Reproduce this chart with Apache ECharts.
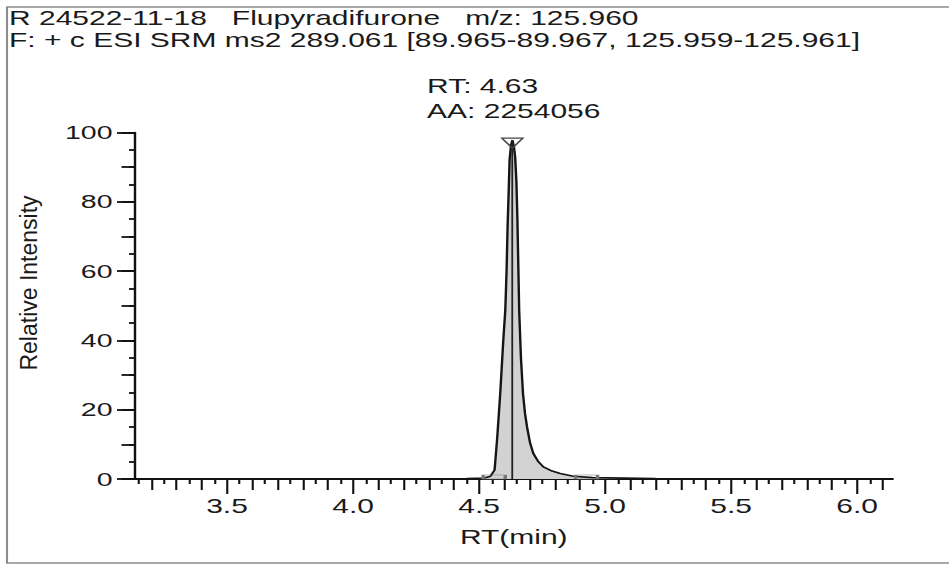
<!DOCTYPE html>
<html>
<head>
<meta charset="utf-8">
<script src="https://cdn.jsdelivr.net/npm/echarts@6.0.0/dist/echarts.min.js"></script>
<style>
  html, body { margin: 0; padding: 0; background: #fff; overflow: hidden; }
  #wrap { width: 949px; height: 565px; overflow: hidden; position: relative; }
  #chart { width: 632.667px; height: 565px; transform: scaleX(1.5); transform-origin: 0 0; }
</style>
</head>
<body>
<div id="wrap"><div id="chart"></div></div>
<script>
// ---- data ----
const titleLine1 = 'R 24522-11-18   Flupyradifurone   m/z: 125.960';
const titleLine2 = 'F: + c ESI SRM ms2 289.061 [89.965-89.967, 125.959-125.961]';
const peakLabel = ['RT: 4.63', 'AA: 2254056'];
const xTitle = 'RT(min)';
const yTitle = 'Relative Intensity';

const rtTimes = [3.135, 3.5, 4.0, 4.45, 4.52, 4.545, 4.5615, 4.572, 4.584, 4.596, 4.604, 4.609, 4.613, 4.617, 4.621, 4.627, 4.632,
                 4.638, 4.643, 4.648, 4.652, 4.656, 4.659, 4.666, 4.674, 4.682, 4.690, 4.702, 4.715, 4.735, 4.755, 4.79, 4.822, 4.874, 4.95, 5.2, 5.6, 6.14];
const intensity = [0, 0, 0, 0.1, 0.3, 0.8, 2.6, 12, 24.8, 40, 48.8, 60, 72.7, 82, 92.1, 96.5, 97.8,
                   96, 93, 86, 75, 60, 48.8, 35, 24.8, 19, 15.1, 10.5, 7.4, 5, 3.5, 2.3, 1.6, 0.8, 0.4, 0.1, 0, 0];
const apexRT = 4.632;
const apexValue = 97.8;
const peakBounds = [4.56, 4.926];

const xMajorTicks = [3.5, 4.0, 4.5, 5.0, 5.5, 6.0];
const xMidTicks = [3.2, 3.3, 3.4, 3.6, 3.7, 3.8, 3.9, 4.1, 4.2, 4.3, 4.4, 4.6, 4.7, 4.8, 4.9, 5.1, 5.2, 5.3, 5.4, 5.6, 5.7, 5.8, 5.9, 6.1];
const xMinorTicks = [3.15, 3.25, 3.35, 3.45, 3.55, 3.65, 3.75, 3.85, 3.95, 4.05, 4.15, 4.25, 4.35, 4.45, 4.55, 4.65, 4.75, 4.85, 4.95,
                     5.05, 5.15, 5.25, 5.35, 5.45, 5.55, 5.65, 5.75, 5.85, 5.95, 6.05];
const xRange = [3.135, 6.14];
const yRange = [0, 100];

// ---- chart ----
const FONT = '"Liberation Sans", Arial, sans-serif';
const TXT = '#1a1a1a';
const chart = echarts.init(document.getElementById('chart'), null, { renderer: 'svg' });

function xAxisBase(ticks, len, showLine, showLabel) {
  return {
    type: 'value', position: 'bottom', gridIndex: 0,
    min: xRange[0], max: xRange[1],
    axisLine: { show: showLine, onZero: false, lineStyle: { color: '#111', width: 2 } },
    axisTick: { show: true, customValues: ticks, length: len, inside: false, lineStyle: { color: '#111', width: 1.4 } },
    axisLabel: showLabel ? {
      show: true, customValues: xMajorTicks, formatter: v => Number(v).toFixed(1),
      fontSize: 20, fontFamily: FONT, color: TXT, margin: 17
    } : { show: false },
    splitLine: { show: false }
  };
}
function yAxisBase(interval, len, showLine, showLabel) {
  return {
    type: 'value', position: 'left', gridIndex: 0,
    min: yRange[0], max: yRange[1], interval: interval,
    axisLine: { show: showLine, lineStyle: { color: '#111', width: 1.6 } },
    axisTick: { show: true, length: len, inside: false, lineStyle: { color: '#111', width: 1.8 } },
    axisLabel: showLabel ? { show: true, fontSize: 19, fontFamily: FONT, color: TXT, margin: 15 } : { show: false },
    splitLine: { show: false }
  };
}

const x0 = xAxisBase(xMajorTicks, 15, true, true);
x0.name = xTitle;
x0.nameLocation = 'middle';
x0.nameGap = 48;
x0.nameTextStyle = { fontSize: 20, fontFamily: FONT, color: TXT };

const option = {
  animation: false,
  backgroundColor: '#fff',
  grid: { left: 90, right: 38, top: 132.5, bottom: 86, containLabel: false, outerBoundsMode: 'none' },
  xAxis: [x0, xAxisBase(xMidTicks, 11, false, false), xAxisBase(xMinorTicks, 5, false, false)],
  yAxis: [yAxisBase(20, 12, true, true), yAxisBase(10, 9, false, false), yAxisBase(5, 4, false, false)],
  series: [{
    type: 'line',
    xAxisIndex: 0, yAxisIndex: 0,
    data: rtTimes.map((t, i) => [t, intensity[i]]),
    showSymbol: false, symbol: 'none',
    lineStyle: { color: '#151515', width: 1.6 },
    areaStyle: { color: '#d2d2d2', opacity: 1 },
    z: 3,
    markLine: {
      silent: true, symbol: ['none', 'none'], label: { show: false },
      lineStyle: { color: '#222', width: 1.2, type: 'solid' },
      data: [[{ coord: [apexRT, 0] }, { coord: [apexRT, apexValue] }]]
    },
    markPoint: {
      silent: true, label: { show: false },
      itemStyle: { color: 'rgba(255,255,255,0)', borderColor: '#444', borderWidth: 1.2 },
      data: [
        { coord: [apexRT, apexValue], symbol: 'triangle', symbolRotate: 180, symbolSize: [14, 10], symbolOffset: [0, 3] },
        { coord: [peakBounds[0], 0], symbol: 'rect', symbolSize: [14.7, 4], symbolOffset: [0, -2], itemStyle: { borderColor: '#777' } },
        { coord: [peakBounds[1], 0], symbol: 'rect', symbolSize: [14.7, 4], symbolOffset: [0, -2], itemStyle: { borderColor: '#777' } }
      ]
    }
  }],
  graphic: [
    { type: 'rect', silent: true, z: 0, shape: { x: 4.67, y: 7, width: 700, height: 556 },
      style: { fill: 'none', stroke: '#8c8c8c', lineWidth: 1.4 } },
    { type: 'text', silent: true, x: 6, y: 17.5,
      style: { text: titleLine1, fontSize: 20, fontFamily: FONT, fill: TXT, textAlign: 'left', textVerticalAlign: 'middle' } },
    { type: 'text', silent: true, x: 6, y: 39.5,
      style: { text: titleLine2, fontSize: 20, fontFamily: FONT, fill: TXT, textAlign: 'left', textVerticalAlign: 'middle' } },
    { type: 'text', silent: true, x: 284.7, y: 85.5,
      style: { text: peakLabel[0], fontSize: 20, fontFamily: FONT, fill: TXT, textAlign: 'left', textVerticalAlign: 'middle' } },
    { type: 'text', silent: true, x: 284.7, y: 111,
      style: { text: peakLabel[1], fontSize: 20, fontFamily: FONT, fill: TXT, textAlign: 'left', textVerticalAlign: 'middle' } },
    { type: 'text', silent: true, x: 18.7, y: 283, rotation: Math.PI / 2, scaleX: 1, scaleY: 0.72,
      style: { text: yTitle, fontSize: 23, fontFamily: FONT, fill: TXT, textAlign: 'center', textVerticalAlign: 'middle' } }
  ]
};
chart.setOption(option);
</script>
</body>
</html>
